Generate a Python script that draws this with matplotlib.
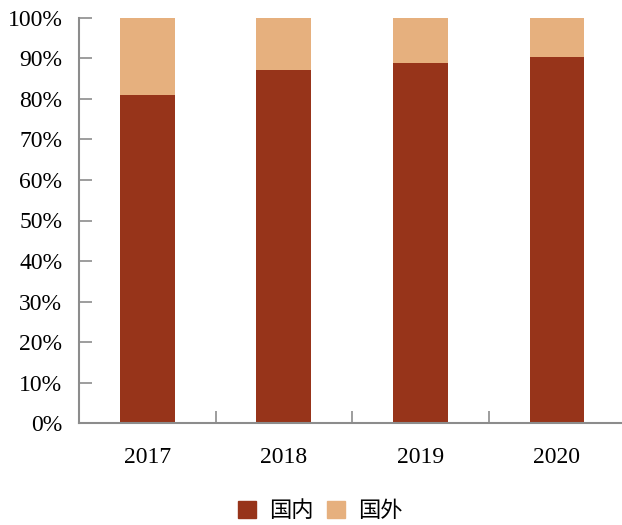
import matplotlib
matplotlib.use('Agg')
import matplotlib.pyplot as plt
from matplotlib.patches import Patch
from matplotlib.ticker import PercentFormatter

years = ['2017', '2018', '2019', '2020']
domestic = [80.9, 87.2, 88.9, 90.3]
overseas = [100 - v for v in domestic]
series_names = ['国内', '国外']

dark = '#97341A'
light = '#E6B07E'
axis_grey = '#8C8C8C'

fig = plt.figure(figsize=(6.22, 5.25), dpi=100)
ax = fig.add_axes([0.127, 0.1937, 0.878, 0.7726])

x = range(len(years))
ax.bar(x, domestic, width=0.4, color=dark)
ax.bar(x, overseas, width=0.4, bottom=domestic, color=light)

ax.set_xlim(-0.5, len(years) - 0.5)
ax.set_ylim(0, 100)
ax.set_yticks(range(0, 101, 10))
ax.yaxis.set_major_formatter(PercentFormatter(decimals=0))

# category labels sit between the boundary ticks
ax.set_xticks([i + 0.5 for i in range(len(years) - 1)])
ax.set_xticklabels([])
ax.set_xticks(list(x), minor=True)
ax.set_xticklabels(years, minor=True)

serif = 'Liberation Serif'
for lab in ax.get_yticklabels() + ax.get_xticklabels(minor=True):
    lab.set_fontfamily(serif)
    lab.set_fontsize(17)

ax.tick_params(axis='y', direction='in', length=9, width=1.2,
               color=axis_grey, pad=12)
ax.tick_params(axis='x', which='major', direction='in', length=9,
               width=1.2, color=axis_grey)
ax.tick_params(axis='x', which='minor', length=0, pad=17)

for side in ['top', 'right']:
    ax.spines[side].set_visible(False)
for side in ['left', 'bottom']:
    ax.spines[side].set_color(axis_grey)
    ax.spines[side].set_linewidth(1.5)

handles = [Patch(color=dark), Patch(color=light)]
fig.legend(handles, series_names, loc='center', bbox_to_anchor=(0.515, 0.027),
           ncol=2, frameon=False, handlelength=0.8, handleheight=0.8,
           handletextpad=0.6, columnspacing=0.6,
           prop={'family': ['Noto Sans CJK SC'], 'size': 16})

fig.savefig('out.png', dpi=100)
